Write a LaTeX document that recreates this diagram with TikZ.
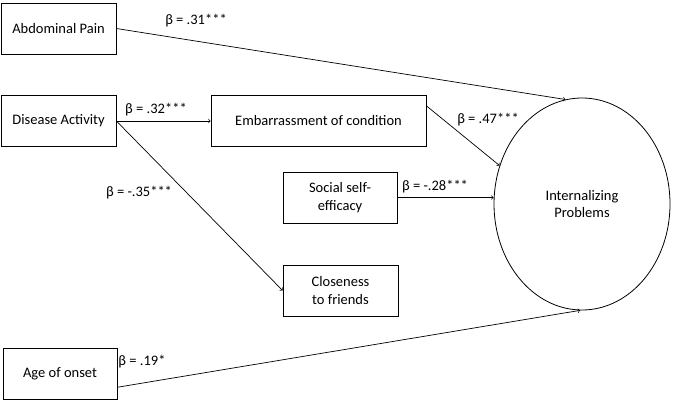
\documentclass[tikz,border=0pt]{standalone}
\usepackage{fontspec}
\setmainfont{Carlito}
\usepackage{tikz}
\usetikzlibrary{arrows}
\usetikzlibrary{shapes.geometric}
\usetikzlibrary{positioning}

\begin{document}
\begin{tikzpicture}[x=1pt,y=-1pt,->,>=to,auto,
    thick,box node/.style={rectangle,draw,font=\fontsize{14.5}{17.5}\selectfont,align=center,minimum height=51pt,inner sep=2pt},
    latent node/.style={ellipse,draw,font=\fontsize{14.5}{17.5}\selectfont,align=center,minimum width=176pt,minimum height=212pt,inner sep=0pt},
    beta node/.style={font=\fontsize{14.5}{17.5}\selectfont,inner sep=0pt}]
   \useasboundingbox (0,0) rectangle (676,401);
   \begin{scope}
      \node[box node,minimum width=115pt] (abd) at (58.5,28.5) {Abdominal Pain};
      \node[box node,minimum width=115pt] (dis) at (58.5,121) {Disease Activity};
      \node[box node,minimum width=215pt] (emb) at (318.5,121) {Embarrassment of condition};
      \node[box node,minimum width=114pt] (soc) at (340,197.5) {Social self-\\efficacy};
      \node[box node,minimum width=115pt] (clo) at (340.5,290.5) {Closeness\\to friends};
      \node[box node,minimum width=114pt] (age) at (60,374) {Age of onset};
      \node[latent node] (int) at (582,204) {Internalizing\\Problems};
      %\node[box node] (sup) at (340,380) {};
       \path[->,line width=0.7pt] (abd.east) edge (int.99);
       \path[->,line width=0.7pt] (dis.east) edge (emb.west);
       \path[->,line width=0.7pt] (dis.east) edge (clo.west);
       \path[->,line width=0.7pt] (emb.8.5) edge (int.155);
       \path[->,line width=0.7pt] (soc.east) edge (int.west |- soc.east);
       \path[->,line width=0.7pt] (age.-13) edge (int.269);
      \node[beta node] (b1) at (196,21) {β = .31***};
      \node[beta node] (b2) at (156,110) {β = .32***};
      \node[beta node] (b3) at (139,193) {β = -.35***};
      \node[beta node] (b4) at (488,120) {β = .47***};
      \node[beta node] (b5) at (435,187) {β = -.28***};
      \node[beta node] (b6) at (142,362) {β = .19*};
   \end{scope}
\end{tikzpicture}
\end{document}
